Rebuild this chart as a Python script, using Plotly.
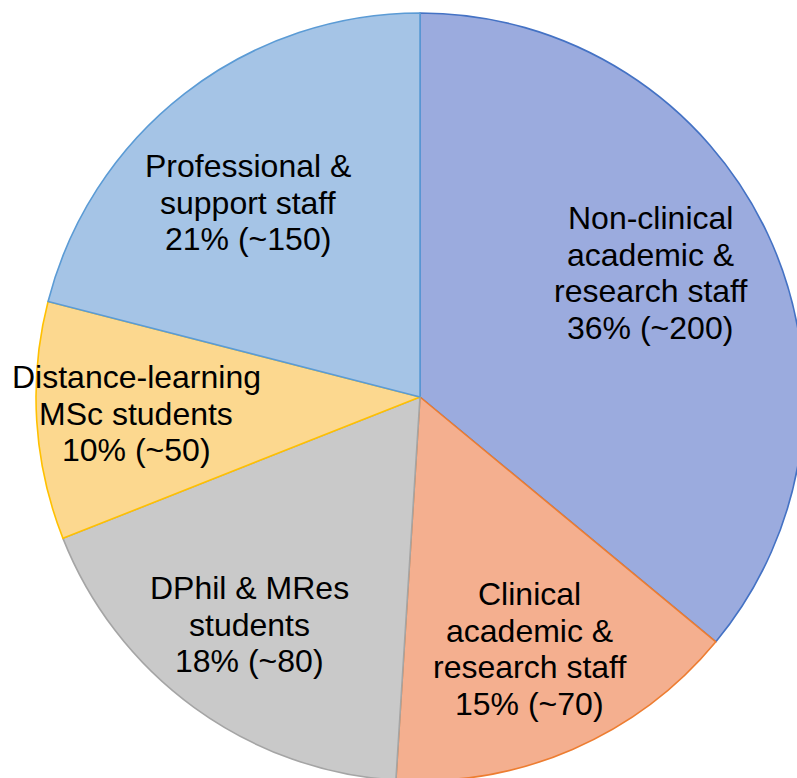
import plotly.graph_objects as go

label_lines = [["Non-clinical", "academic &", "research staff"],
               ["Clinical", "academic &", "research staff"],
               ["DPhil & MRes", "students"],
               ["Distance-learning", "MSc students"],
               ["Professional &", "support staff"]]
percents = [36, 15, 18, 10, 21]
counts = ["~200", "~70", "~80", "~50", "~150"]

fills = ["#9BABDE", "#F4AF8F", "#C9C9C9", "#FCD88F", "#A5C4E6"]
edges = ["#4472C4", "#ED7D31", "#A5A5A5", "#FFC000", "#5B9BD5"]

# label block placement in pixels: (x centre, first line centre)
label_px = [(650, 218), (529, 594), (249, 588), (136, 377), (248, 166)]
LINE_GAP = 36.7

W, H = 804, 781
L, T = 36, 13
S = 768

fig = go.Figure(go.Pie(
    values=percents,
    labels=[" ".join(l) for l in label_lines],
    sort=False,
    direction="clockwise",
    rotation=0,
    textinfo="none",
    hoverinfo="label+percent",
    marker=dict(colors=fills, line=dict(color=edges, width=1.6)),
    showlegend=False,
))

font = dict(family="Liberation Sans, Arial, sans-serif", size=32, color="#000000")
for lines, p, c, (px, py) in zip(label_lines, percents, counts, label_px):
    all_lines = lines + [f"{p}% ({c})"]
    for i, txt in enumerate(all_lines):
        yy = py + i * LINE_GAP
        fig.add_annotation(
            text=txt,
            xref="paper", yref="paper",
            x=(px - L) / S, y=1 - (yy - T) / S,
            xanchor="center", yanchor="middle",
            showarrow=False,
            font=font,
        )

fig.update_layout(
    width=W, height=H,
    margin=dict(l=L, t=T, r=W - L - S, b=H - T - S, pad=0, autoexpand=False),
    paper_bgcolor="white",
    plot_bgcolor="white",
)

fig.write_html(
    "out.html",
    config={"displayModeBar": False},
    post_script="document.body.style.margin='0';document.body.style.overflow='hidden';document.documentElement.style.overflow='hidden';",
)
